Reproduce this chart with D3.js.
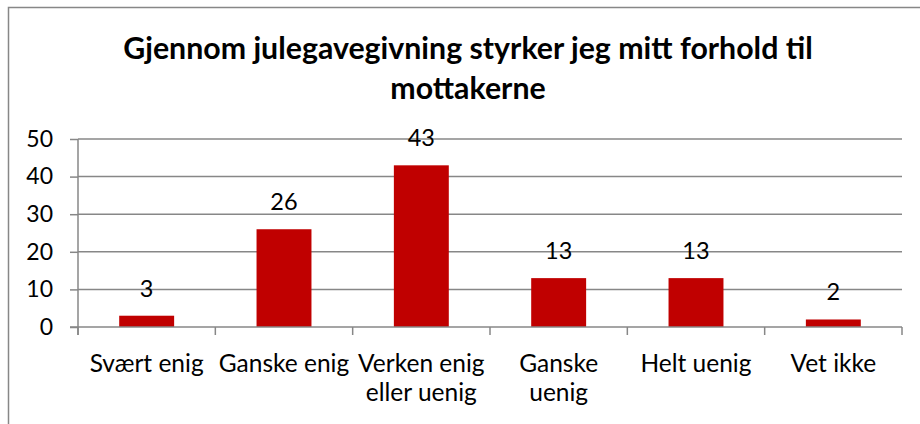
<!DOCTYPE html>
<html lang="no">
<head>
  <meta charset="UTF-8">
  <title>Julegaver</title>
  <style>
    body { margin: 0; background: #fff; }
    svg text { font-family: Lato, "Open Sans", sans-serif; fill: #000; }
  </style>
</head>
<body>

  <svg id="svg" width="920" height="424"></svg>

  <script src="https://d3js.org/d3.v7.min.js"></script>
  <script>
    const titleLines = ['Gjennom julegavegivning styrker jeg mitt forhold til', 'mottakerne']
    const categories = ['Svært enig', 'Ganske enig', 'Verken enig\neller uenig', 'Ganske\nuenig', 'Helt uenig', 'Vet ikke']
    const values = [3, 26, 43, 13, 13, 2]
    const yTicks = [0, 10, 20, 30, 40, 50]

    const svg = d3.select('#svg')
    const gridColor = '#878787'

    // chart frame (runs off the right and bottom edge)
    svg.append('rect')
      .attr('x', 8.5).attr('y', 7.5)
      .attr('width', 1000).attr('height', 1000)
      .attr('fill', 'none')
      .attr('stroke', gridColor)
      .attr('stroke-width', 1.5)

    svg.append('text')
      .attr('text-anchor', 'middle')
      .style('font-weight', 'bold')
      .style('font-size', '30.3px')
      .selectAll('tspan')
      .data(titleLines)
      .enter()
      .append('tspan')
      .attr('x', 468)
      .attr('y', (d, i) => 59 + i * 40)
      .text(d => d)

    const xScale = d3.scaleBand()
      .domain(categories)
      .range([78, 902])
      .paddingInner(0.6)
      .paddingOuter(0.3)

    const yScale = d3.scaleLinear()
      .domain([0, 50])
      .range([327, 139])

    // y axis with ticks
    const yAxis = svg.append('g')
      .attr('transform', 'translate(78,0)')
      .call(d3.axisLeft(yScale).tickValues(yTicks).tickSize(8).tickPadding(17))
    yAxis.select('.domain').attr('stroke', gridColor).attr('stroke-width', 1.5)
      .attr('d', 'M0,139V335')
    yAxis.selectAll('.tick line').attr('stroke', gridColor).attr('stroke-width', 1.5)
    yAxis.selectAll('.tick text').style('font-size', '23px').attr('fill', '#000')

    // gridlines
    svg.append('g')
      .selectAll('line')
      .data(yTicks.filter(d => d > 0))
      .enter()
      .append('line')
      .attr('x1', 78).attr('x2', 902)
      .attr('y1', d => yScale(d)).attr('y2', d => yScale(d))
      .attr('stroke', gridColor)
      .attr('stroke-width', 1.5)

    // bars
    svg.append('g')
      .selectAll('rect')
      .data(values)
      .enter()
      .append('rect')
      .attr('x', (d, i) => xScale(categories[i]))
      .attr('y', d => yScale(d))
      .attr('width', xScale.bandwidth())
      .attr('height', d => yScale(0) - yScale(d))
      .attr('fill', '#C00000')

    // value labels
    svg.append('g')
      .selectAll('text')
      .data(values)
      .enter()
      .append('text')
      .attr('x', (d, i) => xScale(categories[i]) + xScale.bandwidth() / 2)
      .attr('y', d => yScale(d) - 19)
      .attr('text-anchor', 'middle')
      .style('font-size', '23.5px')
      .text(d => d)

    // x axis line and boundary ticks
    const step = xScale.step()
    svg.append('line')
      .attr('x1', 70).attr('x2', 902)
      .attr('y1', yScale(0)).attr('y2', yScale(0))
      .attr('stroke', gridColor).attr('stroke-width', 1.5)
    svg.append('g')
      .selectAll('line')
      .data(d3.range(categories.length + 1))
      .enter()
      .append('line')
      .attr('x1', i => 78 + i * step).attr('x2', i => 78 + i * step)
      .attr('y1', yScale(0)).attr('y2', yScale(0) + 8)
      .attr('stroke', gridColor).attr('stroke-width', 1.5)

    // category labels
    svg.append('g')
      .selectAll('text')
      .data(categories)
      .enter()
      .append('text')
      .attr('text-anchor', 'middle')
      .style('font-size', '24.5px')
      .each(function (d) {
        const cx = xScale(d) + xScale.bandwidth() / 2
        d3.select(this).selectAll('tspan')
          .data(d.split('\n'))
          .enter()
          .append('tspan')
          .attr('x', cx)
          .attr('y', (t, i) => 372 + i * 29)
          .text(t => t)
      })
  </script>
</body>
</html>
